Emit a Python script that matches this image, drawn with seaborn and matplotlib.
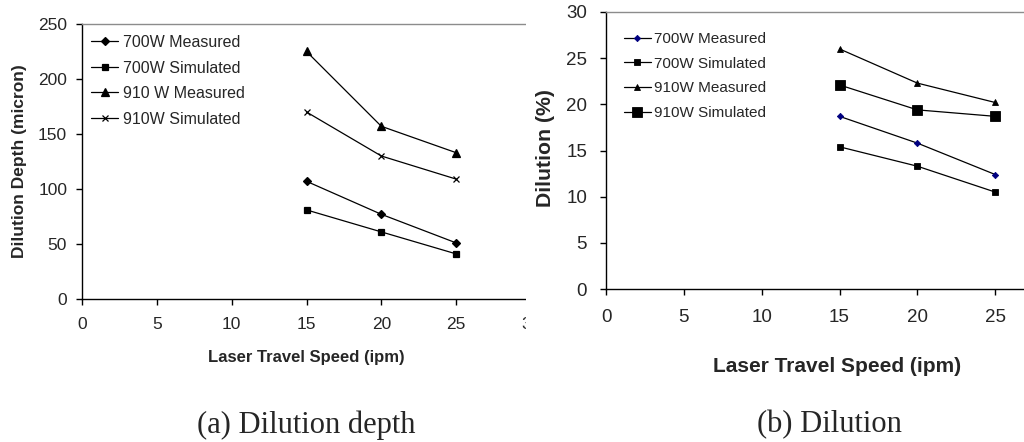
import numpy as np
import pandas as pd
import seaborn as sns
import matplotlib
matplotlib.use("Agg")
import matplotlib.pyplot as plt
from matplotlib.patches import Rectangle

# data
speed = [15, 20, 25]
depth_700_measured = [107, 77, 51]
depth_700_simulated = [81, 61, 41]
depth_910_measured = [225, 157, 133]
depth_910_simulated = [170, 130, 109]

dil_700_measured = [18.7, 15.8, 12.4]
dil_700_simulated = [15.4, 13.3, 10.5]
dil_910_measured = [26.0, 22.3, 20.2]
dil_910_simulated = [22.1, 19.4, 18.7]

x_ticks_a = [0, 5, 10, 15, 20, 25, 30]
x_ticks_b = [0, 5, 10, 15, 20, 25]
depth_ticks = [0, 50, 100, 150, 200, 250]
dil_ticks = [0, 5, 10, 15, 20, 25, 30]

sns.set_style("white")
plt.rcParams["font.family"] = ["Liberation Sans", "DejaVu Sans"]

W, H = 1024, 442
fig = plt.figure(figsize=(W / 100, H / 100), dpi=100)


def px_axes(left, top, right, bottom):
    return fig.add_axes([left / W, 1 - bottom / H, (right - left) / W, (bottom - top) / H])


def style_axes(ax, tick_size, xpad, ypad):
    for side in ["left", "bottom"]:
        ax.spines[side].set_color("black")
        ax.spines[side].set_linewidth(1.0)
    ax.spines["top"].set_color("#8c8c8c")
    ax.spines["top"].set_linewidth(1.0)
    ax.spines["right"].set_visible(False)
    ax.tick_params(axis="both", direction="out", length=4.2, width=1.0,
                   color="black", labelsize=tick_size, bottom=True, left=True)
    ax.tick_params(axis="x", pad=xpad)
    ax.tick_params(axis="y", pad=ypad)
    ax.grid(False)


# ---- (a) dilution depth ----
ax1 = px_axes(82, 24, 531, 299)
series_a = [
    ("700W Measured", depth_700_measured, "D", 4.3, "black"),
    ("700W Simulated", depth_700_simulated, "s", 5.0, "black"),
    ("910 W Measured", depth_910_measured, "^", 6.0, "black"),
    ("910W Simulated", depth_910_simulated, "x", 4.0, "black"),
]
for name, vals, mk, ms, col in series_a:
    sns.lineplot(x=speed, y=vals, ax=ax1, color="black", linewidth=0.9,
                 marker=mk, markersize=ms, markerfacecolor=col,
                 markeredgecolor=col, markeredgewidth=0.9, label=name)
ax1.set_xlim(0, 30)
ax1.set_ylim(0, 250)
ax1.set_xticks(x_ticks_a)
ax1.set_yticks(depth_ticks)
style_axes(ax1, 12.5, 8.6, 6.5)
ax1.set_xlabel("Laser Travel Speed (ipm)", fontsize=12, fontweight="bold", va="center")
ax1.set_ylabel("Dilution Depth (micron)", fontsize=12.5, fontweight="bold", va="center")
ax1.xaxis.set_label_coords(0.5, -0.211)
ax1.yaxis.set_label_coords(-0.140, 0.5)
ax1.legend(loc="upper left", bbox_to_anchor=(91 / W, 1 - 35 / H),
           bbox_transform=fig.transFigure, frameon=False, fontsize=11.5,
           handlelength=1.7, handletextpad=0.3, labelspacing=0.66,
           borderpad=0, borderaxespad=0)

# crop the left panel like the original picture
fig.patches.append(Rectangle((526 / W, 0), 1 - 526 / W, 1, transform=fig.transFigure,
                             facecolor="white", edgecolor="none", zorder=1))

# ---- (b) dilution ----
ax2 = px_axes(606, 12, 1073, 289)
ax2.set_zorder(2)
series_b = [
    ("700W Measured", dil_700_measured, "D", 3.2, "#000080"),
    ("700W Simulated", dil_700_simulated, "s", 4.0, "black"),
    ("910W Measured", dil_910_measured, "^", 4.8, "black"),
    ("910W Simulated", dil_910_simulated, "s", 6.6, "black"),
]
for name, vals, mk, ms, col in series_b:
    sns.lineplot(x=speed, y=vals, ax=ax2, color="black", linewidth=0.9,
                 marker=mk, markersize=ms, markerfacecolor=col,
                 markeredgecolor=col, markeredgewidth=0.6, label=name)
ax2.set_xlim(0, 30)
ax2.set_ylim(0, 30)
ax2.set_xticks(x_ticks_b)
ax2.set_yticks(dil_ticks)
style_axes(ax2, 13.5, 10.5, 9.4)
ax2.set_xlabel("Laser Travel Speed (ipm)", fontsize=15, fontweight="bold", va="center")
ax2.set_ylabel("Dilution (%)", fontsize=15.3, fontweight="bold", va="center")
ax2.xaxis.set_label_coords(0.495, -0.278)
ax2.yaxis.set_label_coords(-0.1306, 0.51)
ax2.legend(loc="upper left", bbox_to_anchor=(624 / W, 1 - 32 / H),
           bbox_transform=fig.transFigure, frameon=False, fontsize=11,
           handlelength=1.76, handletextpad=0.2, labelspacing=0.7,
           borderpad=0, borderaxespad=0)

# captions
fig.text(306 / W, 1 - 425 / H, "(a) Dilution depth", fontsize=22,
         family=["Liberation Serif", "DejaVu Serif"], ha="center", va="center")
fig.text(829 / W, 1 - 425 / H, "(b) Dilution", fontsize=22,
         family=["Liberation Serif", "DejaVu Serif"], ha="center", va="center")

fig.savefig("out.png", dpi=100)
